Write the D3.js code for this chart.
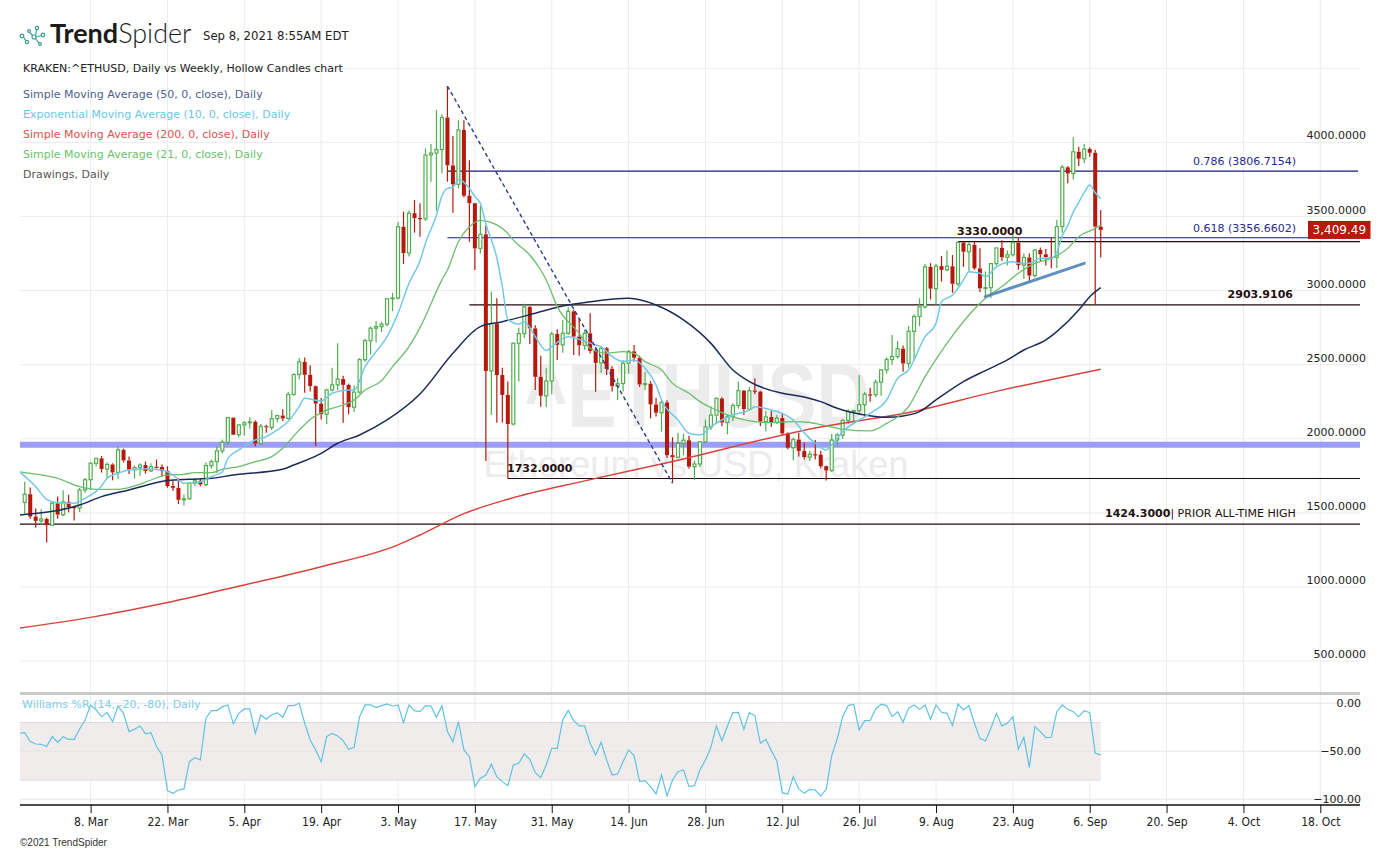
<!DOCTYPE html>
<html>
<head>
<meta charset="utf-8">
<script src="https://cdn.jsdelivr.net/npm/d3@7"></script>
<style>
  body { margin: 0; background: #fff; }
  svg { display: block; font-family: "DejaVu Sans", sans-serif; }
</style>
</head>
<body>
<svg id="chart" width="1391" height="852"></svg>
<script>
// ---- data ----
// daily candles, Kraken ETH/USD, 24 Feb 2021 .. 8 Sep 2021 (one value per day)
const firstCandle = "2021-02-24";
const opens = [
  1571,1626,1475,1446,1459,
  1417,1565,1488,1574,1540,1533,1655,1724,1835,1868,1796,1827,1773,1925,1854,1792,1806,1823,1783,1812,1810,1782,1681,1669,1588,1595,1702,1716,1691,1819,1846,
  1919,1977,2143,2028,2094,2108,2115,1968,2085,2077,2136,2157,2137,2299,2434,2519,2432,2355,2237,2166,2330,2364,2403,2364,2213,2315,2534,2662,2746,2757,
  2773,2945,2950,3431,3253,3522,3490,3484,3915,3928,3952,4168,3845,3717,4084,3640,3590,3285,3380,2458,2778,2430,2296,2100,2645,2710,2890,2745,2418,2290,2390,
  2707,2634,2712,2860,2690,2630,2712,2593,2512,2611,2472,2355,2373,2510,2590,2547,2367,2372,2232,2176,2245,1890,1875,1970,1990,1812,1830,1979,2080,2160,
  2272,2110,2150,2225,2325,2200,2325,2318,2116,2148,2112,2140,2036,1940,1995,1918,1876,1896,1893,1815,1786,1992,2025,2125,2185,2190,2230,2300,2298,2382,2465,
  2535,2555,2608,2508,2725,2825,2890,3160,3013,3165,3140,3164,3046,3325,3262,3310,3150,3015,3020,3182,3288,3225,3242,3324,3172,3224,3101,3274,3245,3226,3225,
  3432,3832,3790,3937,3890,3955,3930,3432
];
const highs = [
  1711,1672,1530,1525,1468,
  1575,1610,1652,1622,1547,1668,1738,1842,1871,1883,1840,1835,1947,1934,1880,1820,1835,1846,1835,1860,1826,1815,1719,1733,1625,1705,1735,1728,1840,1860,1948,
  1993,2147,2144,2099,2120,2145,2125,2100,2095,2195,2160,2200,2317,2440,2545,2549,2497,2360,2275,2338,2480,2644,2425,2372,2360,2545,2675,2757,2795,2790,
  2950,2985,3461,3533,3540,3611,3589,3960,3989,4219,4190,4380,4043,4150,4150,3880,3590,3571,3440,2993,2948,2480,2386,2650,2750,2912,2895,2766,2560,2476,2720,
  2740,2802,2890,2870,2815,2740,2847,2620,2620,2620,2490,2410,2530,2600,2633,2560,2450,2390,2275,2260,2260,2010,2041,2035,2020,1850,1985,2130,2220,2280,
  2280,2160,2240,2386,2330,2350,2408,2325,2190,2190,2160,2170,2045,2010,2040,1975,1920,1992,1920,1820,2032,2040,2130,2200,2195,2431,2315,2345,2400,2470,2550,
  2700,2660,2630,2760,2840,2948,3180,3185,3180,3233,3270,3240,3330,3330,3330,3330,3285,3130,3185,3290,3340,3270,3391,3360,3250,3250,3280,3290,3280,3359,3476,
  3847,3840,4034,3970,3989,3965,3950,3544
];
const lows = [
  1490,1460,1400,1420,1300,
  1411,1460,1478,1505,1448,1506,1636,1655,1813,1772,1730,1720,1730,1840,1762,1732,1750,1765,1776,1800,1746,1670,1650,1560,1550,1590,1680,1680,1680,1800,1770,
  1900,1960,2024,2011,2020,2070,1950,1960,2040,2060,2110,2120,2130,2290,2400,2310,2320,1952,2130,2100,2320,2330,2109,2165,2180,2305,2520,2570,2650,2720,
  2760,2860,2940,3180,3230,3391,3364,3470,3735,3540,3791,3735,3526,3690,3630,3330,3139,3250,1850,2161,2109,2110,1732,2090,2386,2680,2640,2330,2217,2215,2300,
  2532,2580,2700,2566,2560,2600,2575,2318,2445,2430,2320,2262,2320,2440,2520,2350,2330,2138,2150,2048,1870,1701,1870,1890,1800,1722,1810,1975,2060,2100,
  2085,2030,2120,2205,2160,2190,2300,2086,2050,2080,2100,2020,1930,1855,1880,1860,1850,1860,1800,1718,1776,1950,2000,2100,2120,2160,2150,2250,2280,2290,2440,
  2500,2540,2453,2480,2530,2760,2880,2940,2903,3060,3130,2985,3030,3160,3128,3140,2990,2959,2950,3170,3200,3170,3230,3140,3080,3060,3090,3200,3170,3150,3150,
  3390,3724,3750,3841,3860,3904,2904,3224
];
const closes = [
  1626,1475,1446,1459,1417,
  1565,1488,1574,1540,1533,1655,1724,1835,1868,1796,1827,1773,1925,1854,1792,1806,1823,1783,1812,1810,1782,1681,1669,1588,1595,1702,1716,1691,1819,1846,1919,
  1977,2143,2028,2094,2108,2115,1968,2085,2077,2136,2157,2137,2299,2434,2519,2432,2355,2237,2166,2330,2364,2403,2364,2213,2315,2534,2662,2746,2757,2773,
  2945,2950,3431,3253,3522,3490,3484,3915,3928,3952,4168,3845,3717,4084,3640,3590,3285,3380,2458,2778,2430,2296,2100,2645,2710,2890,2745,2418,2290,2390,2707,
  2634,2712,2860,2690,2630,2712,2593,2512,2611,2472,2355,2373,2510,2590,2547,2367,2372,2232,2176,2245,1890,1875,1970,1990,1812,1830,1979,2080,2160,2272,
  2110,2150,2225,2325,2200,2325,2318,2116,2148,2112,2140,2036,1940,1995,1918,1876,1896,1893,1815,1786,1992,2025,2125,2185,2190,2230,2300,2298,2382,2465,2535,
  2555,2608,2508,2725,2825,2890,3160,3013,3165,3140,3164,3046,3325,3262,3310,3150,3015,3020,3182,3288,3225,3242,3324,3172,3224,3101,3274,3245,3226,3225,3432,
  3832,3790,3937,3890,3955,3930,3432,3409.49
];

// moving averages, sampled: [days since 23 Feb 2021, value]
const sma50 = [[0,1486],[11,1553],[15,1610],[20,1655],[27,1718],[31,1727],[35,1733],[39,1756],[48,1794],[50,1823],[55,1902],[58,1970],[62,2026],[67,2127],[73,2302],[79,2577],[84,2757],[88,2790],[94,2847],[99,2896],[104,2925],[111,2948],[116,2903],[121,2802],[126,2644],[130,2464],[133,2386],[139,2307],[142,2289],[146,2251],[149,2206],[154,2161],[158,2145],[161,2154],[164,2183],[167,2262],[172,2386],[176,2460],[180,2532],[183,2599],[187,2667],[189,2723],[193,2869],[195,2959],[197,3020]];
const ema10 = [[0,1778],[3,1677],[5,1592],[7,1569],[10,1565],[12,1598],[15,1682],[16,1734],[18,1767],[20,1790],[23,1796],[26,1790],[28,1756],[30,1700],[32,1700],[35,1745],[37,1778],[38,1868],[40,1925],[43,1992],[45,2015],[47,2060],[49,2116],[51,2217],[52,2273],[55,2255],[57,2307],[60,2329],[61,2329],[63,2487],[65,2588],[67,2689],[69,2847],[71,3049],[73,3200],[74,3319],[76,3510],[77,3638],[78,3690],[79,3697],[80,3750],[82,3690],[83,3634],[84,3589],[85,3450],[87,3220],[88,3027],[89,2806],[91,2775],[92,2790],[94,2689],[96,2595],[97,2622],[100,2689],[102,2671],[105,2633],[106,2622],[108,2554],[110,2521],[112,2532],[114,2476],[116,2363],[117,2262],[120,2127],[122,2037],[124,2026],[126,2082],[128,2127],[130,2161],[133,2194],[134,2217],[137,2194],[139,2172],[141,2127],[143,2040],[145,1970],[147,1925],[148,1958],[150,2048],[153,2127],[155,2172],[158,2262],[160,2408],[162,2464],[165,2689],[167,2779],[168,2925],[170,2970],[172,3071],[173,3128],[175,3117],[176,3094],[178,3161],[181,3195],[182,3184],[184,3184],[186,3218],[188,3218],[189,3258],[190,3370],[191,3440],[192,3530],[193,3596],[194,3661],[195,3713],[196,3660],[197,3620]];
const sma200 = [[0,722],[13,795],[27,895],[41,1014],[55,1137],[69,1284],[73,1351],[81,1495],[89,1592],[103,1716],[118,1839],[146,2080],[161,2170],[178,2320],[197,2470]];
const sma21 = [[0,1778],[4,1756],[7,1733],[11,1677],[14,1659],[18,1659],[21,1682],[24,1722],[27,1756],[30,1760],[32,1772],[35,1772],[37,1794],[40,1812],[43,1846],[46,1880],[48,1936],[51,2060],[53,2131],[56,2194],[59,2228],[61,2262],[63,2329],[66,2392],[68,2487],[71,2622],[73,2750],[77,3072],[78,3139],[80,3330],[82,3431],[84,3474],[86,3458],[87,3443],[89,3386],[90,3341],[93,3240],[95,3139],[96,3072],[98,2892],[102,2712],[104,2611],[107,2577],[110,2588],[112,2577],[114,2521],[117,2464],[119,2374],[122,2307],[124,2251],[127,2194],[129,2161],[131,2138],[134,2116],[137,2109],[141,2116],[144,2110],[146,2095],[150,2064],[155,2053],[158,2104],[162,2217],[165,2419],[169,2644],[173,2835],[176,2948],[179,3027],[182,3117],[185,3184],[188,3218],[191,3285],[193,3364],[196,3420],[197,3443]];

// Williams %R, one value per day from 23 Feb 2021
const williams = [
  -31.3,-30.6,-39.9,-42.4,-42.7,-45.1,-34.7,-40.6,-34.7,-37.5,
  -37.5,-26.7,-17.4,-1.7,-6.9,-13.9,-9.7,-19.1,-2.8,-10.4,
  -29.5,-27.1,-23.6,-31.9,-30.6,-45.1,-53.8,-91.0,-93.8,-90.3,
  -89.2,-60.8,-56.6,-59.0,-15.6,-7.6,-7.6,-3.5,-1.7,-21.5,
  -10.4,-5.9,-5.9,-31.3,-12.2,-16.7,-12.2,-9.7,-14.6,-2.4,
  -2.4,0,-20.8,-38.2,-48.6,-61.1,-34.7,-31.3,-34.0,-38.9,
  -47.9,-45.8,-13.9,-1.7,-1.7,-4.5,-2.4,-0.7,-2.8,-1.7,
  -20.1,-1.7,-7.6,-8.7,-2.4,-2.8,-14.6,-2.4,-29.5,-39.9,
  -19.1,-48.6,-55.6,-86.8,-78.1,-74.7,-63.5,-76.4,-81.6,-85.8,
  -64.2,-62.5,-52.8,-58.3,-72.2,-77.4,-64.2,-46.9,-46.9,-17.4,
  -7.6,-18.1,-23.6,-23.6,-41.7,-53.8,-40.6,-59.0,-74.7,-73.6,
  -60.8,-48.6,-54.5,-81.6,-80.6,-86.8,-94.4,-74.7,-96.5,-79.9,
  -71.2,-69.4,-86.8,-85.8,-69.4,-59.0,-45.8,-23.6,-39.2,-23.6,
  -9.7,-9.4,-27.1,-9.7,-12.8,-41.7,-37.5,-49.3,-60.1,-93.1,
  -94.8,-76.4,-89.2,-93.8,-89.6,-90.3,-96.5,-89.6,-54.5,-37.2,
  -13.9,-2.4,-1.0,-27.8,-18.1,-18.1,-5.9,-1.0,-2.4,-13.9,
  -8.7,-19.8,-5.2,-1.7,-6.3,-1.7,-16.7,-1.7,-9.4,-10.4,
  -23.3,-0.7,-6.9,-2.4,-20.8,-36.5,-39.2,-26.0,-10.4,-23.6,
  -20.8,-13.9,-47.9,-35.4,-66.7,-24.3,-29.5,-35.8,-35.4,-8.7,
  -1.7,-6.3,-8.7,-13.9,-7.6,-9.7,-52.1,-53.8
];

const dateTicks = ["2021-03-08","2021-03-22","2021-04-05","2021-04-19","2021-05-03","2021-05-17","2021-05-31","2021-06-14","2021-06-28","2021-07-12","2021-07-26","2021-08-09","2021-08-23","2021-09-06","2021-09-20","2021-10-04","2021-10-18"];
const priceTicks = [500,1000,1500,2000,2500,3000,3500,4000];
const priceGrid = [500,1000,1500,2000,2500,3000,3500,4000,4500];
const williamsTicks = [0,-50,-100];

// drawings: [days since 23 Feb, price]
const fibHigh = [78, 4380];      // 12 May high
const fibLow = [119, 1701];      // 22 Jun low
const fibLevels = [["0.786", 3806.7154], ["0.618", 3356.6602]];
const levels = [
  { value: 3330, from: 171, label: "3330.0000" },
  { value: 2903.9106, from: 82, label: "2903.9106" },
  { value: 1732, from: 89, label: "1732.0000" },
  { value: 1424.3, from: null, label: "1424.3000", note: "| PRIOR ALL-TIME HIGH" }
];
const supportBand = 1960;
const trendLine = [[176, 2959], [194, 3184]];
const lastPrice = 3409.49;

// ---- layout ----
const svg = d3.select("#chart");
const left = 20, right = 1360;
const parse = d3.timeParse("%Y-%m-%d");
const dayZero = parse("2021-02-23");
const onDay = (d) => d3.timeDay.offset(dayZero, d);

const x = d3.scaleTime()
  .domain([parse("2021-03-08"), parse("2021-10-18")])
  .range([90.6, 1320.3]);
const y = d3.scaleLinear().domain([0, 4000]).range([735.2, 142.4]);
const yW = d3.scaleLinear().domain([-100, 0]).range([799.3, 703.3]);

const green = "#4fae4f", red = "#b5180c";

const defs = svg.append("defs");
defs.append("clipPath").attr("id", "mainClip")
  .append("rect").attr("x", left).attr("y", 0).attr("width", right - left).attr("height", 692);
defs.append("clipPath").attr("id", "lowClip")
  .append("rect").attr("x", left).attr("y", 695).attr("width", right - left).attr("height", 110);

// vertical grid
svg.append("g").selectAll("line").data(dateTicks).join("line")
  .attr("x1", (d) => x(parse(d))).attr("x2", (d) => x(parse(d)))
  .attr("y1", 0).attr("y2", 805)
  .attr("stroke", "#ececec").attr("stroke-width", 1);

// horizontal grid, price
svg.append("g").selectAll("line").data(priceGrid).join("line")
  .attr("x1", left).attr("x2", right)
  .attr("y1", (d) => y(d)).attr("y2", (d) => y(d))
  .attr("stroke", "#ececec");

// watermark
svg.append("text").attr("x", 697).attr("y", 427).attr("text-anchor", "middle")
  .attr("font-family", "Liberation Sans, Arial, sans-serif").attr("font-weight", "bold")
  .attr("font-size", 90).attr("fill", "#ececec")
  .attr("textLength", 345).attr("lengthAdjust", "spacingAndGlyphs")
  .text("^ETHUSD");
svg.append("text").attr("x", 696).attr("y", 477).attr("text-anchor", "middle")
  .attr("font-family", "Liberation Sans, Arial, sans-serif")
  .attr("font-size", 37).attr("fill", "#ececec")
  .attr("textLength", 425).attr("lengthAdjust", "spacingAndGlyphs")
  .text("Ethereum vs USD, Kraken");

// header
const logo = svg.append("g").attr("fill", "none").attr("stroke", "#3a9f8e").attr("stroke-width", 1.2);
[[22, 36, 1.8], [27, 42, 1.6], [29, 31, 1.4], [34, 37, 2], [37, 28, 1.6], [40, 44, 1.4], [43, 35, 1.8]]
  .forEach(([cx, cy, r]) => logo.append("circle").attr("cx", cx).attr("cy", cy).attr("r", r));
logo.append("path").attr("d", "M23.5,37 L25.8,40.8 M29.5,32.5 L32.7,35.5 M35.5,36 L36.5,29.5 M35.5,38.5 L39,43 M36,37 L41.3,35.5");

const brand = svg.append("text").attr("x", 50).attr("y", 43)
  .attr("font-family", "Lato, 'Open Sans', sans-serif").attr("font-size", 27).attr("fill", "#1b1b1b");
brand.append("tspan").attr("font-weight", 700).text("Trend");
brand.append("tspan").attr("font-weight", 300).text("Spider");
svg.append("text").attr("x", 203).attr("y", 40).attr("font-size", 11.7).attr("fill", "#222")
  .text("Sep 8, 2021 8:55AM EDT");

const legendRows = [
  ["KRAKEN:^ETHUSD, Daily vs Weekly, Hollow Candles chart", "#222"],
  ["Simple Moving Average (50, 0, close), Daily", "#4d5f8c"],
  ["Exponential Moving Average (10, 0, close), Daily", "#6cc6e6"],
  ["Simple Moving Average (200, 0, close), Daily", "#d9534f"],
  ["Simple Moving Average (21, 0, close), Daily", "#6cbf6c"],
  ["Drawings, Daily", "#555"]
];
svg.append("g").selectAll("text").data(legendRows).join("text")
  .attr("x", 23).attr("y", (d, i) => (i === 0 ? 72 : 77.5 + i * 20))
  .attr("font-size", 11).attr("fill", (d) => d[1]).text((d) => d[0]);

// chart content
const main = svg.append("g").attr("clip-path", "url(#mainClip)");

// support band
main.append("line").attr("x1", left).attr("x2", right)
  .attr("y1", y(supportBand)).attr("y2", y(supportBand))
  .attr("stroke", "#9c9cfb").attr("stroke-width", 6);

// horizontal levels
levels.forEach((lv) => {
  main.append("line")
    .attr("x1", lv.from === null ? left : x(onDay(lv.from))).attr("x2", right)
    .attr("y1", y(lv.value)).attr("y2", y(lv.value))
    .attr("stroke", "#1e0b0b").attr("stroke-width", 1.2);
});
fibLevels.forEach(([, v]) => {
  main.append("line").attr("x1", x(onDay(fibHigh[0]))).attr("x2", right - 2)
    .attr("y1", y(v)).attr("y2", y(v))
    .attr("stroke", "#161b7a").attr("stroke-width", 1.2);
});

// candles
const candles = closes.map((c, i) => ({
  date: d3.timeDay.offset(parse(firstCandle), i),
  o: opens[i], h: highs[i], l: lows[i], c: c,
  prev: i ? closes[i - 1] : opens[i]
}));
const cg = main.append("g");
candles.forEach((d) => {
  const cx = x(d.date);
  const col = d.c >= d.prev ? green : red;
  const hollow = d.c >= d.o;
  const top = y(Math.max(d.o, d.c)), bot = y(Math.min(d.o, d.c));
  cg.append("line").attr("x1", cx).attr("x2", cx).attr("y1", y(d.h)).attr("y2", top)
    .attr("stroke", col).attr("stroke-width", 1.2);
  cg.append("line").attr("x1", cx).attr("x2", cx).attr("y1", bot).attr("y2", y(d.l))
    .attr("stroke", col).attr("stroke-width", 1.2);
  if (hollow) {
    cg.append("rect").attr("x", cx - 1.5).attr("y", top).attr("width", 3)
      .attr("height", Math.max(0.8, bot - top))
      .attr("fill", "#fff").attr("stroke", col).attr("stroke-width", 1.2);
  } else {
    cg.append("rect").attr("x", cx - 2).attr("y", top).attr("width", 4)
      .attr("height", Math.max(1.2, bot - top)).attr("fill", col);
  }
});

// moving averages
const maLine = d3.line().x((p) => x(onDay(p[0]))).y((p) => y(p[1])).curve(d3.curveMonotoneX);
[[sma200, "#d8433c", 1.5], [sma50, "#1c2a58", 1.5], [sma21, "#6cbd6c", 1.3], [ema10, "#72c8e8", 1.5]]
  .forEach(([pts, col, w]) => {
    main.append("path").attr("d", maLine(pts)).attr("fill", "none")
      .attr("stroke", col).attr("stroke-width", w);
  });

// drawings
main.append("line")
  .attr("x1", x(onDay(fibHigh[0]))).attr("y1", y(fibHigh[1]))
  .attr("x2", x(onDay(fibLow[0]))).attr("y2", y(fibLow[1]))
  .attr("stroke", "#2d3a8e").attr("stroke-width", 1.4).attr("stroke-dasharray", "4,3");
main.append("line")
  .attr("x1", x(onDay(trendLine[0][0]))).attr("y1", y(trendLine[0][1]))
  .attr("x2", x(onDay(trendLine[1][0]))).attr("y2", y(trendLine[1][1]))
  .attr("stroke", "#4f86b8").attr("stroke-width", 3).attr("stroke-linecap", "round").attr("opacity", 0.9);

// level labels
fibLevels.forEach(([ratio, v]) => {
  svg.append("text").attr("x", 1296).attr("y", y(v) - 6).attr("text-anchor", "end")
    .attr("font-size", 11).attr("fill", "#1f2a8a").text(`${ratio} (${v.toFixed(4)})`);
});
const lvText = (lv, xPos, anchor) => {
  const t = svg.append("text").attr("x", xPos).attr("y", y(lv.value) - 7)
    .attr("text-anchor", anchor).attr("font-size", 11).attr("fill", "#24100f");
  t.append("tspan").attr("font-weight", "bold").text(lv.label);
  if (lv.note) t.append("tspan").text(lv.note);
};
lvText(levels[0], 957, "start");
lvText(levels[1], 1293, "end");
lvText(levels[2], 507, "start");
lvText(levels[3], 1105, "start");

// price axis labels
svg.append("g").selectAll("text").data(priceTicks).join("text")
  .attr("x", 1366).attr("y", (d) => y(d) - 3).attr("text-anchor", "end")
  .attr("font-size", 11).attr("fill", "#222").text((d) => d3.format(".4f")(d));

// last price tag
svg.append("rect").attr("x", 1308).attr("y", y(lastPrice) - 9).attr("width", 62.5).attr("height", 18)
  .attr("fill", "#b51a0a");
svg.append("text").attr("x", 1339.3).attr("y", y(lastPrice) + 4.5).attr("text-anchor", "middle")
  .attr("font-size", 12).attr("fill", "#fff").text(d3.format(",.2f")(lastPrice));

// ---- Williams %R panel ----
svg.append("line").attr("x1", left).attr("x2", right).attr("y1", 693.5).attr("y2", 693.5)
  .attr("stroke", "#c9c9c9").attr("stroke-width", 3);
const lastX = x(onDay(williams.length - 1));
svg.append("rect").attr("x", left).attr("y", yW(-20)).attr("width", lastX - left)
  .attr("height", yW(-80) - yW(-20)).attr("fill", "#f0ecec");
[-20, -80].forEach((v) => svg.append("line").attr("x1", left).attr("x2", lastX)
  .attr("y1", yW(v)).attr("y2", yW(v)).attr("stroke", "#dedada"));
svg.append("g").selectAll("line").data(williamsTicks).join("line")
  .attr("x1", left).attr("x2", right).attr("y1", (d) => yW(d)).attr("y2", (d) => yW(d))
  .attr("stroke", "#e6e6e6");
const wLine = d3.line().x((v, i) => x(onDay(i))).y((v) => yW(v));
svg.append("path").attr("clip-path", "url(#lowClip)").attr("d", wLine(williams))
  .attr("fill", "none").attr("stroke", "#5fc2e2").attr("stroke-width", 1.2);
svg.append("text").attr("x", 22).attr("y", 708).attr("font-size", 11).attr("fill", "#7ccde9")
  .text("Williams %R (14, -20, -80), Daily");
svg.append("g").selectAll("text").data(williamsTicks).join("text")
  .attr("x", 1361).attr("y", (d) => yW(d) + 4).attr("text-anchor", "end")
  .attr("font-size", 11).attr("fill", "#222").text((d) => d3.format(".2f")(d));

// ---- time axis ----
svg.append("line").attr("x1", left).attr("x2", right).attr("y1", 805).attr("y2", 805)
  .attr("stroke", "#111").attr("stroke-width", 1.5);
const xAxis = d3.axisBottom(x).tickValues(dateTicks.map(parse))
  .tickFormat(d3.timeFormat("%-d. %b")).tickSize(8).tickPadding(4);
const ax = svg.append("g").attr("transform", "translate(0,805)").call(xAxis);
ax.select(".domain").remove();
ax.selectAll(".tick line").attr("stroke", "#111");
ax.selectAll(".tick text").attr("font-family", "'DejaVu Sans Condensed', 'DejaVu Sans', sans-serif")
  .attr("font-size", 12).attr("fill", "#222");

svg.append("text").attr("x", 20).attr("y", 846).attr("font-family", "Liberation Sans, Arial, sans-serif")
  .attr("font-size", 10).attr("fill", "#333").text("©2021 TrendSpider");
</script>
</body>
</html>
